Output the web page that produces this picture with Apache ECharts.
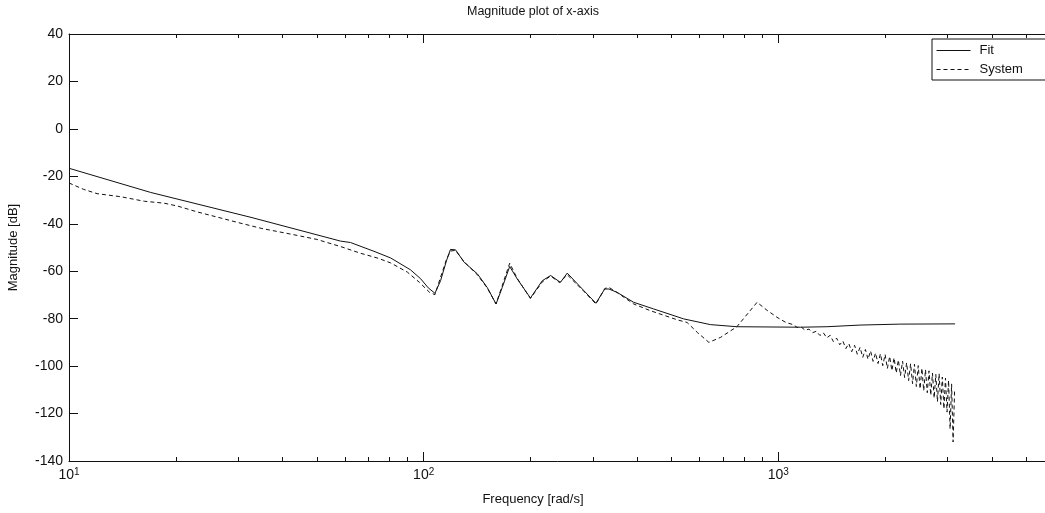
<!DOCTYPE html>
<html>
<head>
<meta charset="utf-8">
<script src="https://cdn.jsdelivr.net/npm/echarts@6/dist/echarts.min.js"></script>
<style>html,body{margin:0;padding:0;background:#fff}#c{width:1045px;height:513px}</style>
</head>
<body>
<div id="c"></div>
<script>
const titleText = 'Magnitude plot of x-axis';
const xName = 'Frequency [rad/s]';
const yName = 'Magnitude [dB]';
const seriesNames = ['Fit', 'System'];

const fitFreq = [10, 17, 32.6, 58.3, 62.2, 72.4, 80.7, 91.8, 98.1, 103, 107.6, 111.6, 116, 119, 123, 130, 141.7, 151, 160, 166.6, 174.8, 183.5, 200, 216, 228, 243, 254, 283, 306, 324, 333, 351, 391, 445, 541, 643, 764, 1153, 1371, 1700, 2200, 3150];
const fitMag = [-16.6, -26.8, -37.3, -47.3, -47.9, -51.6, -54.4, -59.4, -63.2, -67.0, -69.3, -64.0, -55.5, -50.8, -51.0, -56.2, -61.1, -66.8, -73.8, -66.8, -58.0, -63.2, -71.3, -64.0, -61.8, -64.7, -60.8, -68.2, -73.5, -67.5, -67.5, -68.9, -73.1, -75.9, -80.1, -82.5, -83.4, -83.6, -83.4, -82.7, -82.3, -82.2];

const sysFreq = [10, 11, 12, 14, 16.3, 18.5, 20.2, 23, 26.2, 30, 35, 40.4, 45, 50, 58.3, 66.3, 74.3, 80.7, 90, 97.3, 103.9, 107.6, 111.6, 116, 119, 123, 130, 141.7, 151, 160, 166.6, 174.8, 183.5, 200, 216, 228, 241.7, 254, 283, 306, 324, 333, 351, 391, 435, 519, 553, 591, 637, 687, 764, 871, 930, 991, 1050,
  1100, 1130, 1160, 1190, 1220, 1250, 1280, 1310, 1340, 1370, 1400, 1430, 1460, 1490, 1520, 1550, 1580, 1610, 1640, 1670, 1700, 1730, 1760, 1790, 1820, 1850, 1880, 1910, 1940, 1970, 2000, 2030, 2060, 2090, 2120, 2150, 2180, 2210, 2240, 2270, 2300, 2330, 2360, 2390, 2420, 2450, 2480, 2510, 2540, 2570, 2600, 2630, 2660, 2690, 2720, 2750, 2780, 2810, 2840, 2870, 2900, 2930, 2960, 2990, 3020, 3050, 3080, 3110, 3140];
const sysMag = [-22.8, -25.5, -27.3, -28.6, -30.5, -31.3, -32.5, -35.0, -37.2, -39.5, -42.0, -43.8, -45.2, -46.6, -49.6, -52.4, -54.5, -56.5, -60.4, -64.7, -68.9, -69.9, -62.5, -55.0, -51.5, -51.2, -56.0, -61.5, -67.0, -73.8, -66.0, -56.6, -63.0, -71.5, -64.5, -62.0, -64.8, -61.5, -68.5, -73.8, -67.3, -66.8, -69.0, -73.8, -76.6, -80.5, -81.6, -85.8, -90.0, -87.9, -83.4, -73.1, -76.5, -79.4, -81.6,
  -82.5, -83.7, -83.5, -84.9, -84.4, -85.9, -85.3, -87.1, -86.0, -88.1, -87.0, -89.7, -88.2, -91.0, -89.4, -92.6, -90.5, -93.9, -91.2, -95.0, -92.1, -96.3, -93.0, -97.1, -93.6, -98.0, -94.5, -98.9, -94.8, -99.8, -95.1, -101.0, -95.9, -101.9, -96.5, -102.9, -97.4, -104.0, -97.9, -104.8, -98.6, -106.1, -99.0, -107.4, -99.2, -108.6, -99.8, -109.6, -100.9, -110.4, -101.5, -111.2, -102.0, -112.3, -102.9, -113.5, -103.5, -115.0, -103.2, -116.2, -104.6, -118.0, -105.1, -119.4, -106.0, -126.5, -107.5, -132.0, -110.5];

const xMin = 10, xMax = 10000;
const xMajorTicks = [10, 100, 1000, 10000];
const xMinorTicks = [20, 30, 40, 50, 60, 70, 80, 90, 200, 300, 400, 500, 600, 700, 800, 900, 2000, 3000, 4000, 5000, 6000, 7000, 8000, 9000];
const yMin = -140, yMax = 40, yStep = 20;

const fontFam = '"Liberation Sans", Arial, sans-serif';
const ink = '#111';

function pairs(xs, ys) { return xs.map((x, i) => [x, ys[i]]); }
function expLabel(v) {
  const e = Math.round(Math.log10(v));
  return '{b|10}{s|' + e + '}';
}

const chart = echarts.init(document.getElementById('c'), null, {renderer: 'canvas'});
const baseX = {
  type: 'log', logBase: 10, min: xMin, max: xMax,
  splitLine: {show: false}, minorTick: {show: false}, minorSplitLine: {show: false}
};
chart.setOption({
  animation: false,
  backgroundColor: '#fff',
  title: [
    {text: titleText, left: 528, top: 0, textAlign: 'center',
     textStyle: {fontFamily: fontFam, fontSize: 12.5, fontWeight: 'normal', color: ink}},
    {text: xName, left: 528, top: 488, textAlign: 'center',
     textStyle: {fontFamily: fontFam, fontSize: 13, fontWeight: 'normal', color: ink}}
  ],
  legend: {
    orient: 'vertical', left: 932, top: 39,
    padding: [5, 40, 4, 4], itemGap: 6, itemWidth: 34, itemHeight: 12,
    borderColor: ink, borderWidth: 1, backgroundColor: '#fff',
    itemStyle: {opacity: 0},
    lineStyle: {width: 1},
    textStyle: {fontFamily: fontFam, fontSize: 13, color: ink, padding: [0, 0, 0, 4]},
    data: seriesNames
  },
  grid: {left: 69, top: 34, right: -88, bottom: 52, containLabel: false, outerBoundsMode: 'none'},
  xAxis: [
    Object.assign({}, baseX, {
      position: 'bottom',
      axisLine: {show: true, onZero: false, lineStyle: {color: ink, width: 1}},
      axisTick: {show: true, inside: true, length: 9, lineStyle: {color: ink}, customValues: xMajorTicks},
      axisLabel: {show: true, margin: 6, customValues: xMajorTicks, formatter: expLabel,
        rich: {b: {fontFamily: fontFam, fontSize: 14, color: ink, lineHeight: 16},
               s: {fontFamily: fontFam, fontSize: 10, color: ink, verticalAlign: 'top', lineHeight: 10}}}
    }),
    Object.assign({}, baseX, {
      position: 'bottom',
      axisLine: {show: false, onZero: false},
      axisTick: {show: true, inside: true, length: 4, lineStyle: {color: ink}, customValues: xMinorTicks},
      axisLabel: {show: false}
    }),
    Object.assign({}, baseX, {
      position: 'top',
      axisLine: {show: true, onZero: false, lineStyle: {color: ink, width: 1}},
      axisTick: {show: true, inside: true, length: 9, lineStyle: {color: ink}, customValues: xMajorTicks},
      axisLabel: {show: false}
    }),
    Object.assign({}, baseX, {
      position: 'top',
      axisLine: {show: false, onZero: false},
      axisTick: {show: true, inside: true, length: 4, lineStyle: {color: ink}, customValues: xMinorTicks},
      axisLabel: {show: false}
    })
  ],
  yAxis: [{
    type: 'value', min: yMin, max: yMax, interval: yStep,
    name: yName, nameLocation: 'middle', nameGap: 49, nameRotate: 90,
    nameTextStyle: {fontFamily: fontFam, fontSize: 13, color: ink},
    axisLine: {show: true, onZero: false, lineStyle: {color: ink, width: 1}},
    axisTick: {show: true, inside: true, length: 9, lineStyle: {color: ink}},
    axisLabel: {fontFamily: fontFam, fontSize: 14, color: ink, margin: 6},
    splitLine: {show: false}
  }],
  series: [
    {name: seriesNames[0], type: 'line', xAxisIndex: 0, yAxisIndex: 0,
     data: pairs(fitFreq, fitMag), symbol: 'none', smooth: false,
     lineStyle: {color: ink, width: 1, type: 'solid'}, itemStyle: {color: ink}},
    {name: seriesNames[1], type: 'line', xAxisIndex: 0, yAxisIndex: 0,
     data: pairs(sysFreq, sysMag), symbol: 'none', smooth: false,
     lineStyle: {color: ink, width: 1, type: [4, 3]}, itemStyle: {color: ink}}
  ]
});
</script>
</body>
</html>
